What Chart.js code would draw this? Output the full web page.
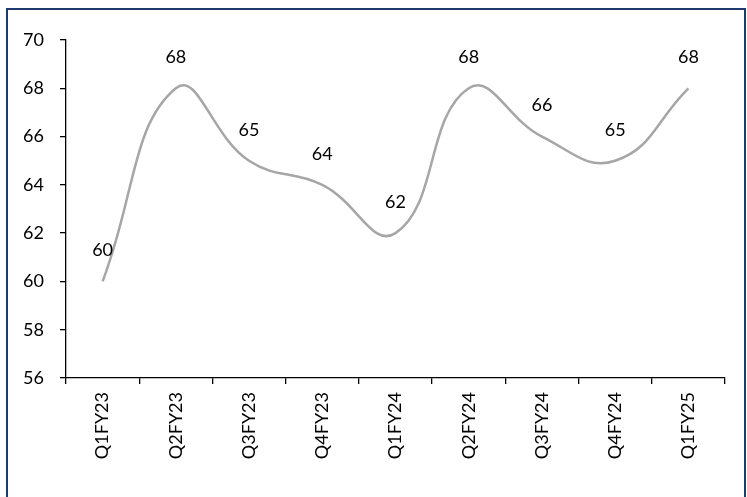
<!DOCTYPE html>
<html>
<head>
<meta charset="utf-8">
<script src="https://cdn.jsdelivr.net/npm/chart.js@4"></script>
<style>
  html, body { margin: 0; padding: 0; background: #fff; }
  #wrap { position: relative; width: 747px; height: 497px; }
</style>
</head>
<body>
<div id="wrap"><canvas id="c" width="747" height="497"></canvas></div>
<script>
const quarters = ['Q1FY23', 'Q2FY23', 'Q3FY23', 'Q4FY23', 'Q1FY24', 'Q2FY24', 'Q3FY24', 'Q4FY24', 'Q1FY25'];
const values = [60, 68, 65, 64, 62, 68, 66, 65, 68];
const yTicks = [56, 58, 60, 62, 64, 66, 68, 70];

const FONT = 'Lato, "Liberation Sans", sans-serif';

// Navy frame around the whole figure
const framePlugin = {
  id: 'frame',
  beforeDraw(chart) {
    const ctx = chart.ctx;
    ctx.save();
    ctx.strokeStyle = '#1F3A6E';
    ctx.lineWidth = 2;
    ctx.strokeRect(7, 9, 738, 500);
    ctx.restore();
  }
};

// Value labels drawn above each point
const valueLabels = {
  id: 'valueLabels',
  afterDatasetsDraw(chart) {
    const ctx = chart.ctx;
    const meta = chart.getDatasetMeta(0);
    ctx.save();
    ctx.font = '18px ' + FONT;
    ctx.fillStyle = '#000';
    ctx.textAlign = 'center';
    ctx.textBaseline = 'middle';
    meta.data.forEach((pt, i) => {
      ctx.fillText(String(values[i]), pt.x, pt.y - 31);
    });
    ctx.restore();
  }
};

new Chart(document.getElementById('c'), {
  type: 'line',
  data: {
    labels: quarters,
    datasets: [{
      data: values,
      borderColor: '#A6A6A6',
      borderWidth: 2.5,
      tension: 0.45,
      pointRadius: 0,
      fill: false
    }]
  },
  options: {
    responsive: false,
    animation: false,
    layout: { padding: { top: 40, right: 22, left: 0, bottom: 0 } },
    plugins: { legend: { display: false }, tooltip: { enabled: false } },
    scales: {
      x: {
        offset: true,
        afterFit(scale) { scale.height = 119; },
        grid: {
          offset: true,
          drawOnChartArea: false,
          drawTicks: true,
          tickLength: 6,
          color: '#000',
          lineWidth: 1.3
        },
        border: { color: '#000', width: 1.3 },
        ticks: {
          color: '#000',
          font: { family: FONT, size: 18 },
          minRotation: 90,
          maxRotation: 90,
          padding: 8,
          autoSkip: false
        }
      },
      y: {
        min: 56,
        max: 70,
        afterFit(scale) { scale.width = 66; },
        afterBuildTicks(scale) { scale.ticks = yTicks.map(v => ({ value: v })); },
        grid: {
          drawOnChartArea: false,
          drawTicks: true,
          tickLength: 6,
          color: '#000',
          lineWidth: 1.3
        },
        border: { color: '#000', width: 1.3 },
        ticks: {
          color: '#000',
          font: { family: FONT, size: 18 },
          padding: 16
        }
      }
    }
  },
  plugins: [framePlugin, valueLabels]
});
</script>
</body>
</html>
